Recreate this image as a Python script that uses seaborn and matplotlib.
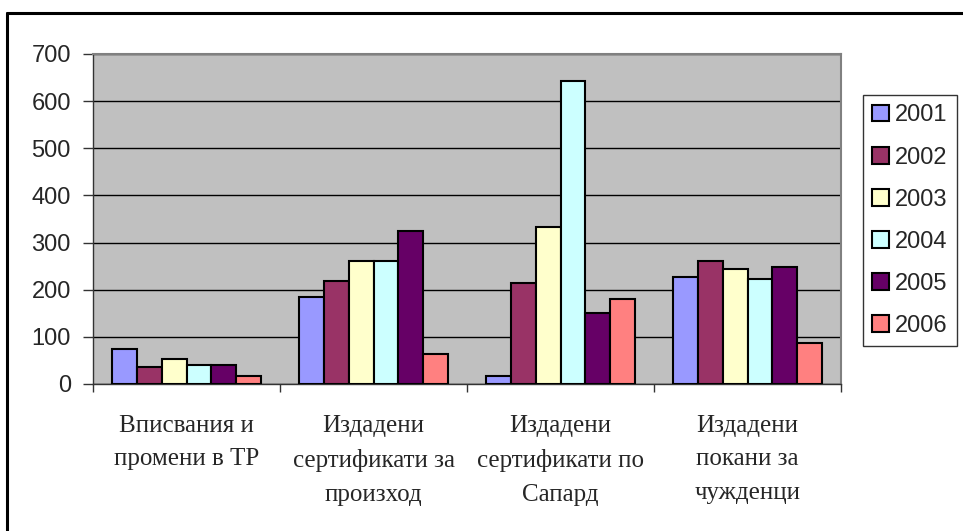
import pandas as pd
import seaborn as sns
import matplotlib.pyplot as plt
from matplotlib.lines import Line2D
from matplotlib.ticker import FixedLocator

# Data
categories = [
    "Вписвания и\nпромени в ТР",
    "Издадени\nсертификати за\nпроизход",
    "Издадени\nсертификати по\nСапард",
    "Издадени\nпокани за\nчужденци",
]
years = ["2001", "2002", "2003", "2004", "2005", "2006"]
v2001 = [74, 185, 16, 226]
v2002 = [37, 219, 214, 261]
v2003 = [54, 261, 332, 245]
v2004 = [41, 261, 642, 223]
v2005 = [41, 325, 151, 248]
v2006 = [16, 63, 181, 88]
y_ticks = [0, 100, 200, 300, 400, 500, 600, 700]

colors = ["#9999FF", "#993366", "#FFFFCC", "#CCFFFF", "#660066", "#FF8080"]

series = [v2001, v2002, v2003, v2004, v2005, v2006]
rows = []
for year, vals in zip(years, series):
    for cat, v in zip(categories, vals):
        rows.append({"category": cat, "year": year, "value": v})
df = pd.DataFrame(rows)

sns.set_theme(style="white")
plt.rcParams["font.family"] = ["Liberation Sans", "DejaVu Sans"]

fig = plt.figure(figsize=(9.63, 5.31), dpi=100)
ax = fig.add_axes([93 / 963, 1 - 384 / 531, (841 - 93) / 963, (384 - 54) / 531])
ax.set_facecolor("#C0C0C0")

sns.barplot(data=df, x="category", y="value", hue="year", order=categories,
            hue_order=years, palette=colors, saturation=1, width=0.8, gap=0,
            edgecolor="black", linewidth=1.5, ax=ax, zorder=3)

ax.set_ylim(0, 700)
ax.set_xlim(-0.5, 3.5)
ax.set_yticks(y_ticks)
ax.yaxis.grid(True, color="black", linewidth=1, zorder=0)
ax.set_axisbelow(True)
ax.tick_params(axis="y", direction="out", length=7, width=1, color="#333333",
               labelsize=17, pad=9, left=True)
ax.set_xlabel("")
ax.set_ylabel("")

# category labels below, boundaries as minor ticks
ax.xaxis.set_minor_locator(FixedLocator([-0.5, 0.5, 1.5, 2.5, 3.5]))
ax.tick_params(axis="x", which="major", length=0, pad=22)
ax.tick_params(axis="x", which="minor", direction="out", length=6, width=1,
               color="#333333", bottom=True)
for lbl in ax.get_xticklabels():
    lbl.set_fontfamily(["Liberation Serif", "DejaVu Serif"])
    lbl.set_fontsize(18)
    lbl.set_linespacing(1.7)
    lbl.set_verticalalignment("top")

for side in ["left", "bottom"]:
    ax.spines[side].set_color("#333333")
    ax.spines[side].set_linewidth(1)
for side in ["top", "right"]:
    ax.spines[side].set_color("#808080")
    ax.spines[side].set_linewidth(1.5)

# legend box on the right
handles, labels = ax.get_legend_handles_labels()
ax.legend(handles, labels, loc="upper left",
          bbox_to_anchor=(863 / 963, 1 - 95 / 531), bbox_transform=fig.transFigure,
          fontsize=17, frameon=True, fancybox=False, edgecolor="#333333",
          framealpha=1, handlelength=0.7, handleheight=0.7, handletextpad=0.25,
          labelspacing=0.85, borderpad=0.4, borderaxespad=0)
ax.get_legend().get_frame().set_linewidth(1)

# outer chart border (cropped at right and bottom in the reference)
fig.add_artist(Line2D([7 / 963, 7 / 963], [-0.05, 1 - 13 / 531],
                      transform=fig.transFigure, color="black", linewidth=2.2))
fig.add_artist(Line2D([7 / 963, 1.05], [1 - 13 / 531, 1 - 13 / 531],
                      transform=fig.transFigure, color="black", linewidth=2.2))

fig.savefig("out.png", dpi=100)
